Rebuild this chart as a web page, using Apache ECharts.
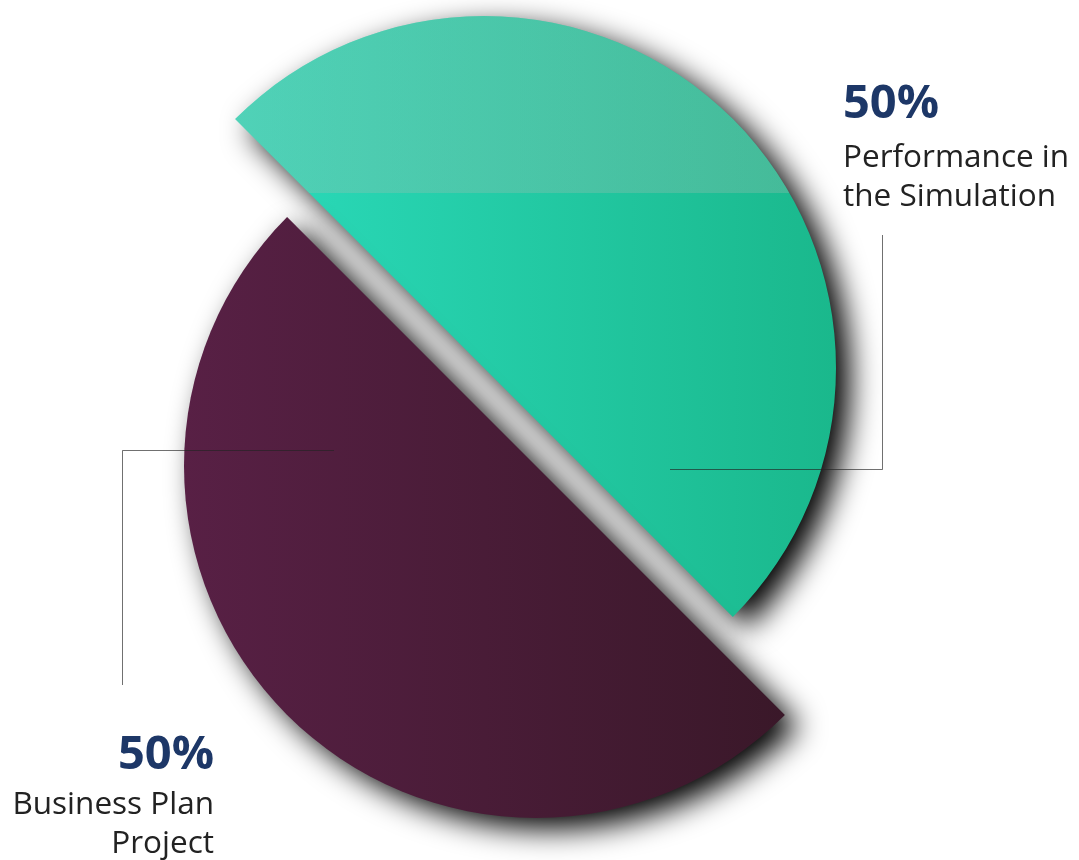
<!DOCTYPE html>
<html>
<head>
<meta charset="utf-8">
<style>
html,body{margin:0;padding:0;background:#ffffff;}
#chart{width:1079px;height:860px;}
</style>
<script src="https://cdn.jsdelivr.net/npm/echarts@6/dist/echarts.min.js"></script>
</head>
<body>
<div id="chart"></div>
<script>
// ---- data ----
const categories = ['Performance in the Simulation', 'Business Plan Project'];
const labelTexts = [['Performance in', 'the Simulation'], ['Business Plan', 'Project']];
const values = [50, 50];

// ---- layout / style ----
const R = 352;
const centers = [[484, 368], [536, 466]];
const sliceColors = [
  ['#2bdbbb', '#1ab88c'],
  ['#582045', '#3a1829']
];
const bandColor = 'rgba(165,188,176,0.30)';
const bandClear = 'rgba(165,188,176,0)';
const bandStop = 0.2945;
const TRANSPARENT = 'rgba(0,0,0,0)';

const chart = echarts.init(document.getElementById('chart'), null, { renderer: 'canvas' });

function hGrad(c) {
  return { type: 'linear', x: 0, y: 0, x2: 1, y2: 0,
    colorStops: [{ offset: 0, color: c[0] }, { offset: 1, color: c[1] }] };
}

const labelCfg = [
  { x: 843, y: 70, align: 'left', pLine: 69,
    line: [[670, 469.5], [882.5, 469.5], [882.5, 235]] },
  { x: 214, y: 726, align: 'right', pLine: 60,
    line: [[334, 450.5], [122.5, 450.5], [122.5, 685]] }
];

function hiddenItem(i) {
  return {
    value: values[i], name: categories[i],
    itemStyle: { color: TRANSPARENT, shadowBlur: 0, shadowColor: TRANSPARENT },
    label: { show: false }, labelLine: { show: false }
  };
}

function baseSeries(idx) {
  return {
    type: 'pie',
    center: centers[idx],
    radius: R,
    startAngle: 135,
    clockwise: true,
    silent: true,
    avoidLabelOverlap: false,
    animation: false,
    label: { show: false },
    labelLine: { show: false }
  };
}

// filled slice (no labels)
function sliceSeries(idx) {
  return Object.assign(baseSeries(idx), {
    data: values.map((v, i) => i !== idx ? hiddenItem(i) : {
      value: v, name: categories[i],
      itemStyle: {
        color: hGrad(sliceColors[idx]),
        shadowBlur: 30,
        shadowColor: 'rgba(0,0,0,1)',
        shadowOffsetX: 14,
        shadowOffsetY: 11
      }
    })
  });
}

// transparent host drawn on top, carrying label + label line
function labelSeries(idx) {
  const cfg = labelCfg[idx];
  return Object.assign(baseSeries(idx), {
    z: 5,
    data: values.map((v, i) => i !== idx ? hiddenItem(i) : {
      value: v, name: categories[i],
      itemStyle: { color: TRANSPARENT, shadowBlur: 0, shadowColor: TRANSPARENT },
      label: {
        show: true,
        opacity: 1,
        position: 'outside',
        align: cfg.align,
        formatter: (p) => '{p|' + Math.round(p.percent) + '%}\n' +
          labelTexts[i].map(t => '{n|' + t + '}').join('\n'),
        rich: {
          p: { fontFamily: 'Open Sans', fontWeight: 'bold', fontSize: 47,
               color: '#1d3767', lineHeight: cfg.pLine, align: cfg.align },
          n: { fontFamily: 'Open Sans', fontSize: 31.5, color: '#222222',
               lineHeight: 39, align: cfg.align }
        }
      },
      labelLine: {
        show: true, length: 10, length2: 10, smooth: false,
        lineStyle: { color: 'rgba(35,35,35,0.65)', width: 1, opacity: 1 }
      }
    }),
    labelLayout: function (params) {
      if (params.dataIndex !== idx) return {};
      return {
        x: cfg.x, y: cfg.y, align: cfg.align, verticalAlign: 'top',
        labelLinePoints: cfg.line
      };
    }
  });
}

const bandSeries = Object.assign(baseSeries(0), {
  data: values.map((v, i) => i !== 0 ? hiddenItem(i) : {
    value: v, name: categories[i],
    itemStyle: {
      color: { type: 'linear', x: 0, y: 0, x2: 0, y2: 1, colorStops: [
        { offset: 0, color: bandColor },
        { offset: bandStop, color: bandColor },
        { offset: bandStop, color: bandClear },
        { offset: 1, color: bandClear }
      ] }
    }
  })
});

chart.setOption({
  backgroundColor: '#ffffff',
  animation: false,
  series: [sliceSeries(0), bandSeries, sliceSeries(1), labelSeries(0), labelSeries(1)]
});
</script>
</body>
</html>
